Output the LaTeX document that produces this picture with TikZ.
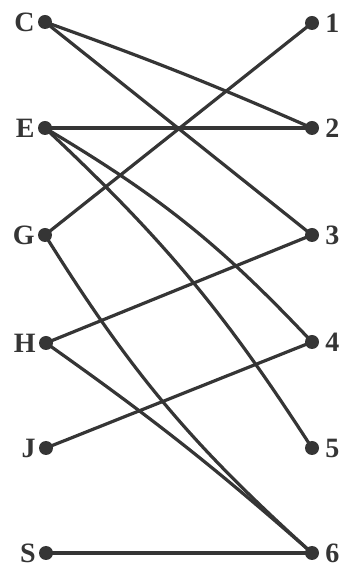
\documentclass[tikz,border=0pt]{standalone}
\usepackage{fontspec}
\setmainfont{Liberation Serif}
\usepackage{tikz}
\usetikzlibrary{positioning, calc}
\definecolor{inkgray}{HTML}{353535}

\begin{document}
\begin{tikzpicture}[
  x=1pt, y=1pt,
  vertex/.style={circle, fill=inkgray, inner sep=0pt, minimum size=14pt},
  every label/.style={font=\fontsize{28}{28}\selectfont\bfseries, text=inkgray, inner sep=1pt},
  edge/.style={draw=inkgray, line width=3.2pt, line cap=round}
]
\useasboundingbox (0,0) rectangle (347,570);
% left column
\node[vertex, label={[label distance=2pt]left:C}] (C) at (45,548) {};
\node[vertex, label={[label distance=2pt]left:E}] (E) at (45,442) {};
\node[vertex, label={[label distance=2pt]left:G}] (G) at (45,335) {};
\node[vertex, label={[label distance=2pt]left:H}] (H) at (46,227) {};
\node[vertex, label={[label distance=2pt]left:J}] (J) at (46,122) {};
\node[vertex, label={[label distance=2pt]left:S}] (S) at (46,17) {};
% right column
\node[vertex, label={[label distance=5pt]right:1}] (r1) at (312,547) {};
\node[vertex, label={[label distance=5pt]right:2}] (r2) at (312,442) {};
\node[vertex, label={[label distance=5pt]right:3}] (r3) at (312,335) {};
\node[vertex, label={[label distance=5pt]right:4}] (r4) at (312,228) {};
\node[vertex, label={[label distance=5pt]right:5}] (r5) at (312,122) {};
\node[vertex, label={[label distance=5pt]right:6}] (r6) at (312,17) {};
% edges
\draw[edge] (C.center) to[bend left=2] (r2.center);
\draw[edge] (C.center) -- (r3.center);
\draw[edge] (E.center) -- (r2.center);
\draw[edge] (E.center) to[bend left=8] (r4.center);
\draw[edge] (E.center) to[bend left=7] (r5.center);
\draw[edge] (G.center) -- (r1.center);
\draw[edge] (G.center) to[bend right=8] (r6.center);
\draw[edge] (H.center) -- (r3.center);
\draw[edge] (H.center) to[bend left=3] (r6.center);
\draw[edge] (J.center) -- (r4.center);
\draw[edge] (S.center) -- (r6.center);
\end{tikzpicture}
\end{document}
